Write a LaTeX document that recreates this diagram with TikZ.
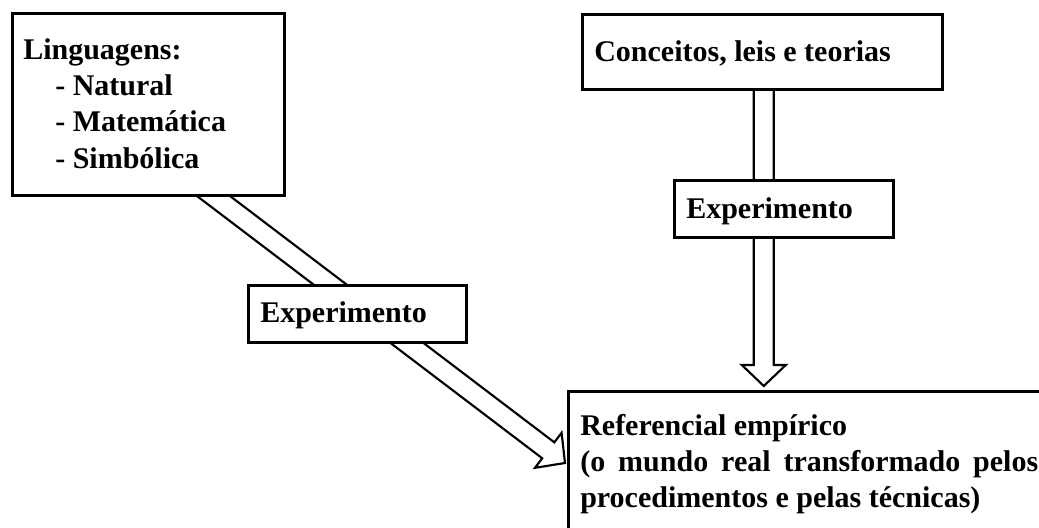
\documentclass[tikz,border=0pt]{standalone}
\usepackage{fontspec}
\setmainfont{Liberation Serif}
\usetikzlibrary{calc}
\tikzset{
  boxnode/.style={draw=black, line width=2.2pt, fill=white, rectangle, inner sep=0pt, anchor=north west},
  txt/.style={anchor=base west, inner sep=0pt, font=\fontsize{22.5}{27}\selectfont\bfseries},
  blockarrow/.style={draw=black, line width=1.6pt, fill=white, line join=miter},
}
\newcommand{\mkblockarrow}[3]{%
  \coordinate (#3h) at ($(#2)!15.75pt!(#1)$);
  \draw[blockarrow] ($(#1)!7.5pt!90:(#2)$) -- ($(#3h)!7.5pt!-90:(#1)$) -- ($(#3h)!16.5pt!-90:(#1)$) -- (#2) -- ($(#3h)!16.5pt!90:(#1)$) -- ($(#3h)!7.5pt!90:(#1)$) -- ($(#1)!7.5pt!-90:(#2)$) -- cycle;
}
\begin{document}
\begin{tikzpicture}[x=0.75pt,y=-0.75pt]
\useasboundingbox (0,0) rectangle (1039,528);
\clip (0,0) rectangle (1039,528);
% arrow end points
\coordinate (d0) at (184.5,174);
\coordinate (d1) at (565,463);
\coordinate (v0) at (763.8,70);
\coordinate (v1) at (763.8,386);
\mkblockarrow{d0}{d1}{da}
\mkblockarrow{v0}{v1}{va}
% boxes
\node[boxnode, minimum width=204pt, minimum height=136.5pt] (lang) at (11,12) {};
\node[boxnode, minimum width=270pt, minimum height=56.25pt] (conc) at (580.7,13) {};
\node[boxnode, minimum width=163.7pt, minimum height=42.75pt] (exp1) at (246.7,284) {};
\node[boxnode, minimum width=164.25pt, minimum height=42.75pt] (exp2) at (672.7,179) {};
\node[boxnode, minimum width=369.5pt, minimum height=127.5pt] (ref) at (567.3,390) {};
% texts
\node[txt] (t1) at (23,59.5) {Linguagens:};
\node[txt] (t2) at (55,95.7) {- Natural};
\node[txt] (t3) at (55,132) {- Matemática};
\node[txt] (t4) at (55,168) {- Simbólica};
\node[txt] (t5) at (594,62) {Conceitos, leis e teorias};
\node[txt] (t6) at (686,218.3) {Experimento};
\node[txt] (t7) at (260,322.7) {Experimento};
\node[txt] (t8) at (580,435) {Referencial empírico};
\node[txt] (t9) at (580,471) {\makebox[343.5pt][s]{(o mundo real transformado pelos}};
\node[txt] (t10) at (580,507) {procedimentos e pelas técnicas)};
\end{tikzpicture}
\end{document}
